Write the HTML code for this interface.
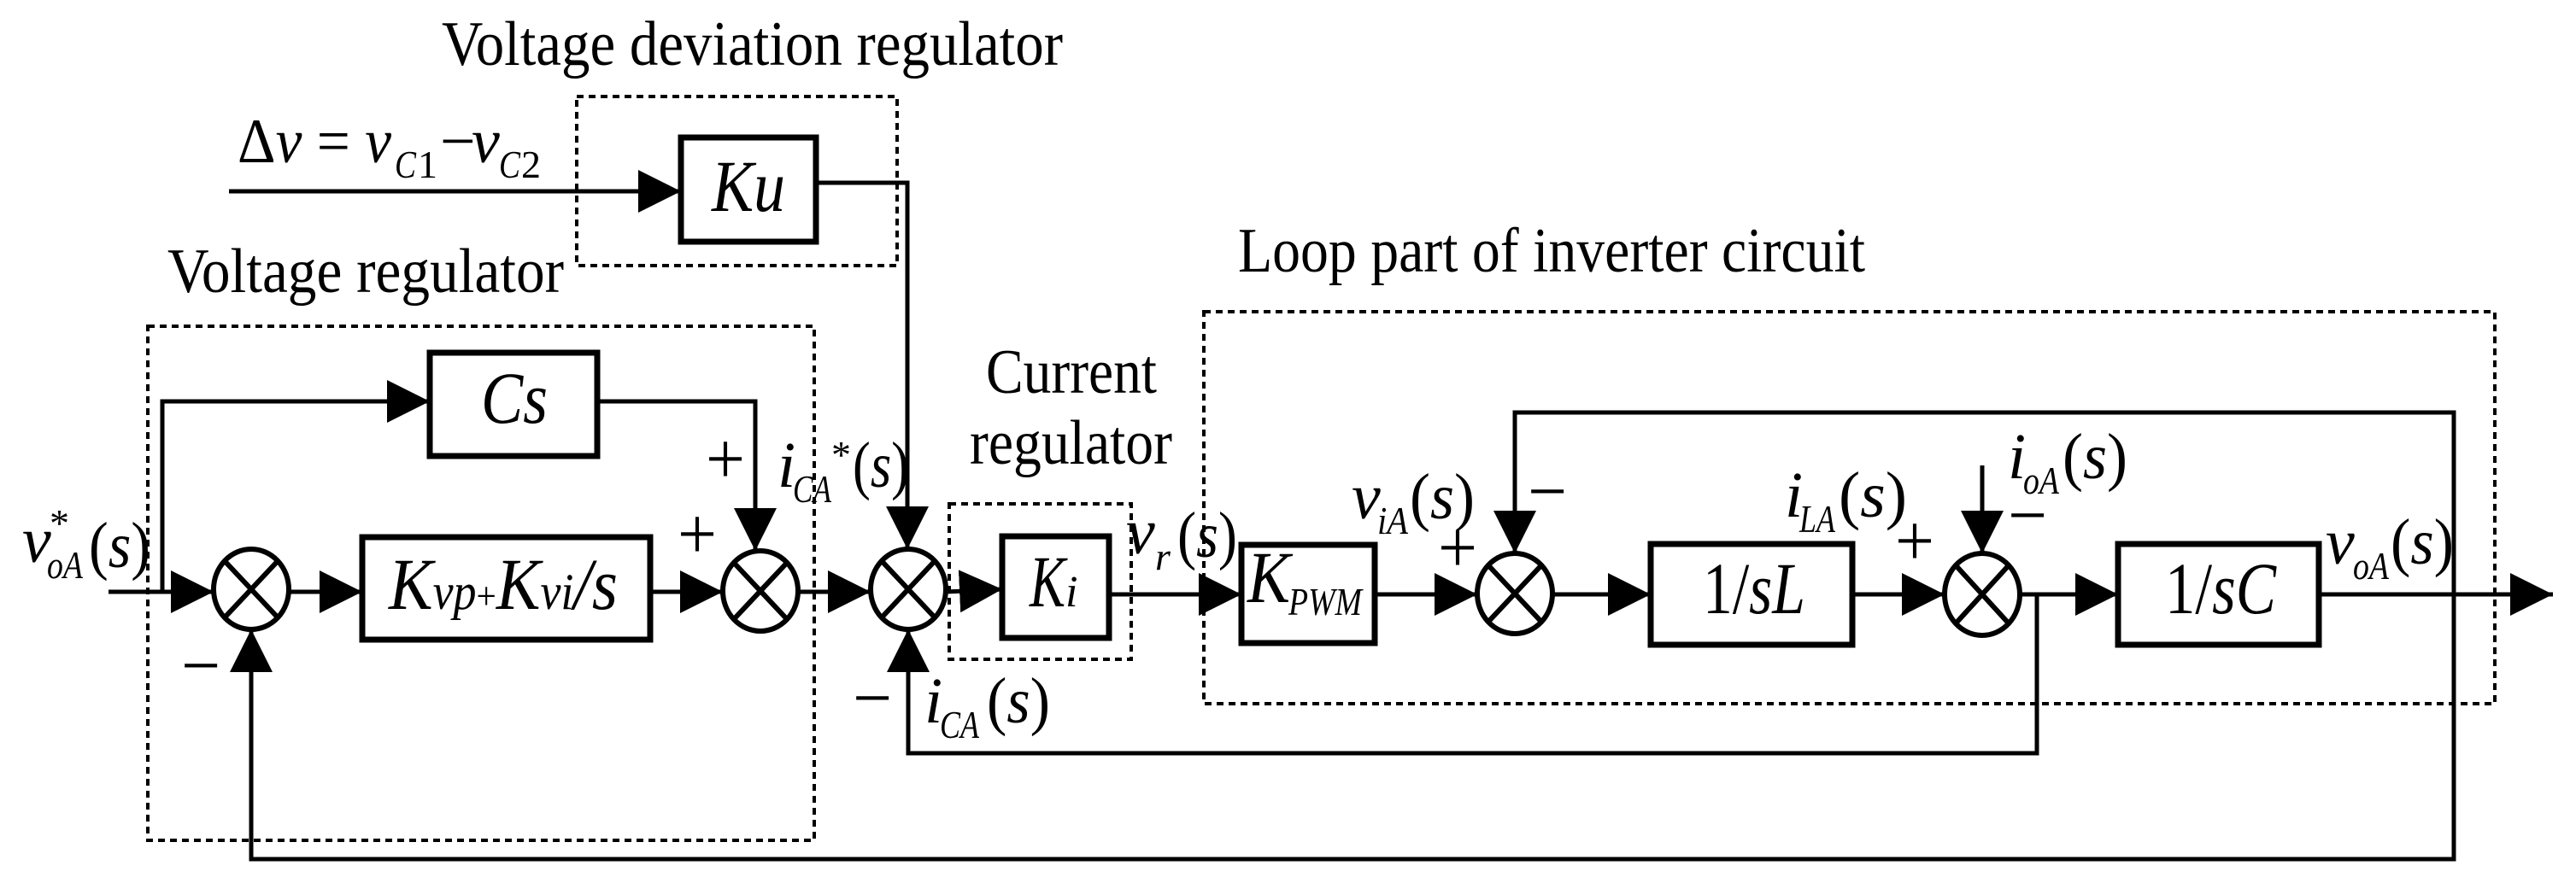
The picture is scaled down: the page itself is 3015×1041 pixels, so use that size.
<!DOCTYPE html>
<html><head><meta charset="utf-8"><style>
html,body{margin:0;padding:0;background:#fff;}
svg{display:block;}
text{font-family:"Liberation Serif","Times New Roman",serif;fill:#000;}
.i{font-style:italic;}
</style></head><body>
<svg width="3015" height="1041" viewBox="0 0 3015 1041" xmlns="http://www.w3.org/2000/svg">
<defs>
<marker id="a" viewBox="0 0 50 50" refX="50" refY="25" markerWidth="50" markerHeight="50" markerUnits="userSpaceOnUse" orient="auto">
<path d="M0,0 L50,25 L0,50 Z" fill="#000"/>
</marker>
</defs>
<g fill="none" stroke="#000" stroke-width="4" stroke-dasharray="8,6">
<rect x="675" y="113" width="375" height="198"/>
<rect x="173" y="382" width="780" height="602"/>
<rect x="1111" y="590" width="213" height="182"/>
<rect x="1409" y="365" width="1511" height="459"/>
</g>
<g fill="none" stroke="#000" stroke-width="7">
<rect x="797" y="161" width="158" height="122"/>
<rect x="503" y="413" width="196" height="121"/>
<rect x="424" y="629" width="337" height="120"/>
<rect x="1173" y="628" width="125" height="119"/>
<rect x="1453" y="638" width="156" height="115"/>
<rect x="1932" y="637" width="236" height="118"/>
<rect x="2479" y="637" width="235" height="118"/>
</g>
<g fill="none" stroke="#000" stroke-width="6">
<ellipse cx="294" cy="690" rx="44" ry="47"/>
<ellipse cx="890" cy="692" rx="44" ry="47"/>
<ellipse cx="1063" cy="690" rx="44" ry="47"/>
<ellipse cx="1773" cy="695" rx="44" ry="47"/>
<ellipse cx="2320" cy="696" rx="44" ry="48"/>
<path d="M263,657 L325,723 M325,657 L263,723"/>
<path d="M859,659 L921,725 M921,659 L859,725"/>
<path d="M1032,657 L1094,723 M1094,657 L1032,723"/>
<path d="M1742,662 L1804,728 M1804,662 L1742,728"/>
<path d="M2289,662 L2351,730 M2351,662 L2289,730"/>
</g>
<g fill="none" stroke="#000" stroke-width="5">
<path d="M268,224 L797,224" marker-end="url(#a)"/>
<path d="M955,214 L1062,214 L1062,643" marker-end="url(#a)"/>
<path d="M127,693 L250,693" marker-end="url(#a)"/>
<path d="M190,693 L190,470 L503,470" marker-end="url(#a)"/>
<path d="M338,693 L424,693" marker-end="url(#a)"/>
<path d="M699,470 L884,470 L884,645" marker-end="url(#a)"/>
<path d="M761,693 L846,693" marker-end="url(#a)"/>
<path d="M934,693 L1019,693" marker-end="url(#a)"/>
<path d="M1107,693 L1173,690" marker-end="url(#a)"/>
<path d="M1298,696 L1453,696" marker-end="url(#a)"/>
<path d="M1609,696 L1729,696" marker-end="url(#a)"/>
<path d="M1817,696 L1932,696" marker-end="url(#a)"/>
<path d="M2168,696 L2276,696" marker-end="url(#a)"/>
<path d="M2364,696 L2479,696" marker-end="url(#a)"/>
<path d="M2714,696 L2988,696" marker-end="url(#a)"/>
<path d="M2872,696 L2872,483 L1773,483 L1773,648" marker-end="url(#a)"/>
<path d="M2320,545 L2320,648" marker-end="url(#a)"/>
<path d="M2384,696 L2384,882 L1063,882 L1063,737" marker-end="url(#a)"/>
<path d="M2872,696 L2872,1006 L294,1006 L294,737" marker-end="url(#a)"/>
</g>
<!-- titles -->
<text x="517" y="76" font-size="74" textLength="727" lengthAdjust="spacingAndGlyphs">Voltage deviation regulator</text>
<text x="196" y="342" font-size="74" textLength="464" lengthAdjust="spacingAndGlyphs">Voltage regulator</text>
<text x="1449" y="318" font-size="74" textLength="734" lengthAdjust="spacingAndGlyphs">Loop part of inverter circuit</text>
<text x="1154" y="460" font-size="74" textLength="200" lengthAdjust="spacingAndGlyphs">Current</text>
<text x="1135" y="543" font-size="74" textLength="237" lengthAdjust="spacingAndGlyphs">regulator</text>
<!-- delta v -->
<text x="278" y="190" font-size="74" textLength="180" lengthAdjust="spacingAndGlyphs">Δ<tspan class="i">v</tspan> = <tspan class="i">v</tspan></text>
<text x="462" y="208" font-size="46" class="i" textLength="25" lengthAdjust="spacingAndGlyphs">C</text><text x="489" y="208" font-size="46">1</text>
<text x="515" y="190" font-size="74">−</text>
<text x="552" y="190" font-size="74" class="i">v</text>
<text x="584" y="208" font-size="46" class="i" textLength="25" lengthAdjust="spacingAndGlyphs">C</text><text x="610" y="208" font-size="46">2</text>
<!-- box texts -->
<text x="833" y="247" font-size="86" class="i" textLength="86" lengthAdjust="spacingAndGlyphs">Ku</text>
<text x="563" y="495" font-size="86" class="i" textLength="78" lengthAdjust="spacingAndGlyphs">Cs</text>
<text x="455" y="713" font-size="86" class="i" textLength="268" lengthAdjust="spacingAndGlyphs">K<tspan font-size="60">vp</tspan><tspan font-size="46" font-style="normal">+</tspan>K<tspan font-size="60">vi</tspan>/s</text>
<text x="1205" y="710" font-size="86" class="i" textLength="42" lengthAdjust="spacingAndGlyphs">K</text>
<text x="1247" y="710" font-size="52" class="i">i</text>
<text x="1460" y="705" font-size="86" class="i" textLength="50" lengthAdjust="spacingAndGlyphs">K</text>
<text x="1508" y="720" font-size="46" class="i" textLength="86" lengthAdjust="spacingAndGlyphs">PWM</text>
<text x="1993" y="718" font-size="86" textLength="120" lengthAdjust="spacingAndGlyphs">1/<tspan class="i">sL</tspan></text>
<text x="2534" y="718" font-size="86" textLength="130" lengthAdjust="spacingAndGlyphs">1/<tspan class="i">sC</tspan></text>
<!-- labels -->
<text x="26" y="658" font-size="76" class="i">v</text>
<text x="58" y="628" font-size="46">*</text>
<text x="55" y="677" font-size="46" class="i" textLength="42" lengthAdjust="spacingAndGlyphs">oA</text>
<text x="104" y="664" font-size="76" textLength="72" lengthAdjust="spacingAndGlyphs">(<tspan class="i">s</tspan>)</text>
<text x="212" y="808" font-size="86" textLength="46" lengthAdjust="spacingAndGlyphs">−</text>
<text x="826" y="566" font-size="86" textLength="46" lengthAdjust="spacingAndGlyphs">+</text>
<text x="793" y="654" font-size="86" textLength="46" lengthAdjust="spacingAndGlyphs">+</text>
<text x="910" y="570" font-size="76" class="i">i</text>
<text x="928" y="588" font-size="46" class="i" textLength="45" lengthAdjust="spacingAndGlyphs">CA</text>
<text x="973" y="548" font-size="46">*</text>
<text x="998" y="570" font-size="76" textLength="66" lengthAdjust="spacingAndGlyphs">(<tspan class="i">s</tspan>)</text>
<text x="998" y="846" font-size="86" textLength="46" lengthAdjust="spacingAndGlyphs">−</text>
<text x="1082" y="846" font-size="76" class="i">i</text>
<text x="1100" y="864" font-size="46" class="i" textLength="46" lengthAdjust="spacingAndGlyphs">CA</text>
<text x="1155" y="846" font-size="76" textLength="74" lengthAdjust="spacingAndGlyphs">(<tspan class="i">s</tspan>)</text>
<text x="1318" y="648" font-size="76" class="i">v</text>
<text x="1352" y="667" font-size="46" class="i">r</text>
<text x="1378" y="652" font-size="76" textLength="70" lengthAdjust="spacingAndGlyphs">(<tspan class="i">s</tspan>)</text>
<text x="1582" y="607" font-size="76" class="i">v</text>
<text x="1612" y="625" font-size="46" class="i" textLength="36" lengthAdjust="spacingAndGlyphs">iA</text>
<text x="1650" y="607" font-size="76" textLength="76" lengthAdjust="spacingAndGlyphs">(<tspan class="i">s</tspan>)</text>
<text x="1683" y="670" font-size="86" textLength="46" lengthAdjust="spacingAndGlyphs">+</text>
<text x="1788" y="604" font-size="86" textLength="46" lengthAdjust="spacingAndGlyphs">−</text>
<text x="2089" y="605" font-size="76" class="i">i</text>
<text x="2106" y="623" font-size="46" class="i" textLength="42" lengthAdjust="spacingAndGlyphs">LA</text>
<text x="2152" y="605" font-size="76" textLength="80" lengthAdjust="spacingAndGlyphs">(<tspan class="i">s</tspan>)</text>
<text x="2218" y="662" font-size="86" textLength="46" lengthAdjust="spacingAndGlyphs">+</text>
<text x="2350" y="560" font-size="76" class="i">i</text>
<text x="2368" y="578" font-size="46" class="i" textLength="42" lengthAdjust="spacingAndGlyphs">oA</text>
<text x="2414" y="560" font-size="76" textLength="76" lengthAdjust="spacingAndGlyphs">(<tspan class="i">s</tspan>)</text>
<text x="2350" y="632" font-size="86" textLength="46" lengthAdjust="spacingAndGlyphs">−</text>
<text x="2722" y="660" font-size="76" class="i">v</text>
<text x="2754" y="678" font-size="46" class="i" textLength="42" lengthAdjust="spacingAndGlyphs">oA</text>
<text x="2798" y="660" font-size="76" textLength="74" lengthAdjust="spacingAndGlyphs">(<tspan class="i">s</tspan>)</text>
</svg>
</body></html>
